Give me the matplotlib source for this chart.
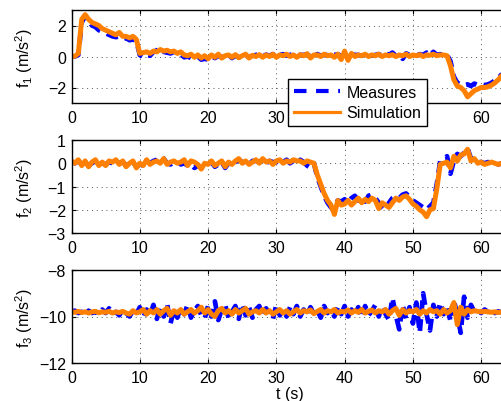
import numpy as np
import matplotlib
matplotlib.use("Agg")
import matplotlib.pyplot as plt
from matplotlib.lines import Line2D

plt.rcParams['font.family'] = ['Liberation Sans', 'DejaVu Sans']
plt.rcParams['mathtext.fontset'] = 'custom'
plt.rcParams['mathtext.rm'] = 'Liberation Sans'
plt.rcParams['mathtext.it'] = 'Liberation Sans:italic'

DT = 0.5  # sampling step (s)

f1_sim = [
    0.0, 0.02, 0.2, 2.4, 2.7, 2.4, 2.2, 2.1, 2.0, 1.8,
    1.7, 1.6, 1.5, 1.4, 1.55, 1.3, 1.3, 1.2, 1.3, 1.1,
    0.2, 0.25, 0.3, 0.2, 0.35, 0.3, 0.45, 0.35, 0.4, 0.3,
    0.35, 0.2, 0.3, 0.1, 0.05, 0.15, -0.05, 0.1, -0.1, 0.05,
    -0.15, 0.1, -0.05, 0.15, -0.1, 0.05, 0.1, -0.05, 0.12, -0.08,
    0.05, 0.15, -0.1, 0.08, 0.0, 0.12, -0.05, 0.1, 0.0, 0.15,
    -0.05, 0.1, 0.05, 0.15, 0.0, 0.1, -0.05, 0.12, 0.05, 0.18,
    -0.1, 0.1, 0.1, 0.0, 0.15, 0.05, 0.1, -0.05, 0.15, -0.2,
    0.35, -0.25, 0.2, 0.0, 0.1, 0.05, 0.15, 0.0, 0.1, 0.05,
    0.15, 0.0, 0.1, 0.05, 0.12, 0.0, 0.1, 0.05, 0.15, 0.0,
    0.1, 0.05, 0.12, 0.0, 0.1, 0.08, 0.15, 0.05, 0.1, 0.1,
    0.05, -0.6, -1.5, -1.9, -2.0, -2.2, -2.6, -2.4, -2.2, -2.1,
    -2.0, -2.0, -1.95, -1.85, -1.7, -1.5, -1.25, -1.0, -0.8,
]
f1_meas = [
    0.0, 0.0, 0.1, 2.2, 2.6, 2.3, 2.0, 1.9, 1.7, 1.6,
    1.5, 1.4, 1.3, 1.25, 1.3, 1.15, 1.2, 1.05, 1.1, 1.0,
    0.1, -0.05, 0.1, 0.05, 0.3, 0.4, 0.5, 0.3, 0.25, 0.2,
    0.3, 0.1, 0.15, -0.05, 0.0, -0.1, -0.15, 0.0, -0.2, -0.15,
    -0.2, 0.0, -0.1, 0.05, -0.05, 0.0, 0.1, -0.1, 0.05, -0.05,
    0.0, 0.1, -0.05, 0.05, 0.1, 0.15, 0.0, 0.12, 0.05, 0.15,
    0.0, 0.1, 0.15, 0.05, 0.1, 0.15, 0.05, 0.1, 0.1, 0.15,
    0.0, 0.1, 0.15, 0.05, 0.1, 0.1, 0.05, 0.1, 0.15, 0.0,
    0.1, 0.05, 0.15, 0.1, 0.1, 0.05, 0.2, 0.1, 0.05, 0.1,
    0.15, 0.05, 0.2, 0.1, 0.25, 0.05, 0.1, -0.15, 0.2, 0.1,
    0.2, 0.05, 0.15, 0.1, 0.25, 0.05, 0.3, 0.1, 0.15, 0.1,
    0.1, -0.3, -1.3, -1.7, -1.8, -1.85, -1.8, -1.9, -1.75, -1.85,
    -1.8, -1.85, -1.8, -1.7, -1.55, -1.4, -1.15, -0.9, -0.7,
]
f2_sim = [
    0.1, 0.0, 0.15, -0.1, 0.1, -0.15, 0.05, 0.15, -0.1, 0.05,
    -0.1, 0.1, 0.05, 0.15, -0.05, 0.1, -0.15, 0.0, 0.1, -0.2,
    0.0, -0.1, 0.15, -0.05, 0.05, 0.1, 0.0, 0.2, -0.05, 0.05,
    0.1, 0.0, 0.05, 0.15, -0.1, 0.1, 0.05, -0.05, -0.25, 0.0,
    -0.05, 0.1, -0.1, 0.0, 0.1, -0.15, 0.05, -0.05, 0.1, 0.2,
    0.0, 0.1, -0.05, 0.05, 0.15, 0.0, 0.2, 0.05, 0.1, -0.05,
    0.1, 0.15, 0.0, 0.1, 0.05, 0.15, 0.1, 0.1, 0.0, 0.1,
    0.05, 0.0, -0.5, -0.9, -1.3, -1.6, -1.8, -2.2, -1.6, -1.8,
    -1.75, -1.6, -1.8, -1.65, -1.5, -1.7, -1.55, -1.65, -1.5, -1.6,
    -1.95, -1.7, -1.8, -1.9, -1.7, -1.5, -1.6, -1.45, -1.4, -1.55,
    -1.75, -1.85, -2.0, -2.1, -2.3, -2.0, -1.95, -1.1, -0.05, 0.0,
    0.05, -0.2, 0.3, 0.1, 0.35, 0.4, 0.6, 0.1, 0.2, 0.0,
    0.05, -0.05, 0.0, 0.05, 0.0, -0.05, 0.0, -0.05, 0.0,
]
f2_meas = [
    0.05, 0.0, 0.1, -0.05, 0.05, -0.1, 0.0, 0.1, -0.05, 0.0,
    -0.05, 0.05, 0.0, 0.1, 0.0, 0.05, -0.1, 0.0, 0.05, -0.15,
    -0.05, -0.1, 0.1, 0.0, 0.1, 0.15, 0.3, 0.2, 0.0, -0.05,
    0.05, 0.1, -0.05, 0.0, -0.1, -0.05, -0.2, -0.1, -0.2, -0.15,
    -0.1, 0.05, -0.15, -0.05, 0.05, -0.2, 0.0, -0.1, 0.05, 0.15,
    0.05, 0.0, -0.05, 0.1, 0.1, 0.05, 0.15, 0.0, 0.1, 0.05,
    0.05, 0.1, 0.05, 0.15, 0.0, 0.1, 0.05, 0.15, 0.05, -0.1,
    -0.2, 0.0, -0.6, -1.0, -1.4, -1.7, -1.9, -1.8, -1.6, -1.65,
    -1.55, -1.7, -1.5, -1.4, -1.6, -1.45, -1.65, -1.4, -1.35, -1.5,
    -1.7, -1.9, -2.05, -1.7, -1.5, -1.4, -1.5, -1.35, -1.3, -1.45,
    -1.6, -1.7, -1.8, -1.9, -2.0, -1.85, -1.7, -0.9, 0.1, 0.2,
    0.3, -0.45, 0.1, 0.4, 0.3, 0.45, 0.65, 0.2, 0.15, 0.05,
    0.05, 0.0, 0.05, 0.0, 0.05, -0.05, 0.0, 0.0, 0.0,
]
f3_sim = [
    -9.8, -9.82, -9.78, -9.83, -9.8, -9.85, -9.8, -9.78, -9.84, -9.8,
    -9.82, -9.78, -9.85, -9.8, -9.83, -9.78, -9.85, -9.9, -9.75, -9.85,
    -9.8, -9.7, -9.9, -9.75, -9.85, -9.7, -9.9, -9.75, -9.65, -9.95,
    -9.75, -9.85, -9.7, -9.9, -9.8, -9.7, -9.85, -9.75, -9.6, -9.85,
    -9.7, -9.9, -10.0, -9.75, -9.65, -9.85, -9.75, -9.9, -9.7, -9.85,
    -9.75, -9.65, -9.9, -9.8, -9.75, -9.85, -9.7, -9.85, -9.75, -9.9,
    -9.8, -9.7, -9.85, -9.75, -9.9, -9.8, -9.7, -9.85, -9.75, -9.8,
    -9.72, -9.88, -9.78, -9.7, -9.85, -9.75, -9.8, -9.7, -9.85, -9.78,
    -9.8, -9.72, -9.85, -9.75, -9.82, -9.7, -9.85, -9.78, -9.72, -9.85,
    -9.75, -9.8, -9.7, -9.9, -9.75, -9.65, -9.95, -9.7, -9.85, -9.75,
    -9.8, -9.7, -9.9, -9.75, -9.85, -9.7, -9.8, -9.75, -9.9, -9.7,
    -9.85, -9.75, -9.4, -10.35, -9.6, -9.9, -9.7, -9.8, -9.75, -9.78,
    -9.8, -9.78, -9.8, -9.82, -9.8, -9.83, -9.8, -9.82, -9.8,
]
f3_meas = [
    -9.8, -9.75, -9.85, -9.8, -9.9, -9.75, -9.85, -9.8, -9.9, -9.7,
    -9.85, -9.65, -9.9, -9.8, -9.95, -9.7, -9.85, -10.0, -9.75, -9.9,
    -9.6, -10.05, -9.7, -9.95, -9.5, -10.1, -9.6, -10.0, -9.45, -10.3,
    -9.7, -10.05, -9.6, -9.9, -9.5, -10.05, -9.75, -9.55, -9.95, -10.1,
    -9.55, -10.0, -9.35, -10.15, -9.7, -9.5, -10.05, -9.8, -9.55, -10.1,
    -9.45, -9.95, -9.6, -10.05, -9.7, -9.55, -10.0, -9.65, -9.9, -10.1,
    -9.5, -9.95, -9.7, -10.0, -9.6, -9.9, -9.55, -10.0, -9.7, -9.95,
    -9.6, -9.9, -9.75, -10.05, -9.55, -9.85, -9.7, -10.0, -9.6, -9.9,
    -9.55, -10.0, -9.7, -9.9, -9.6, -10.05, -9.55, -9.95, -9.75, -9.5,
    -10.0, -9.55, -9.9, -10.15, -9.2, -9.95, -10.55, -9.5, -10.1, -9.6,
    -10.3, -9.4, -10.7, -9.0, -9.9, -10.6, -9.5, -10.0, -9.4, -9.9,
    -9.55, -10.2, -9.3, -9.95, -10.7, -9.15, -10.05, -9.5, -9.8, -9.75,
    -9.85, -9.7, -9.8, -9.75, -9.85, -9.78, -9.82, -9.8, -9.8,
]

xticks = [0, 10, 20, 30, 40, 50, 60]
ylabels = ['f$_1$ (m/s$^2$)', 'f$_2$ (m/s$^2$)', 'f$_3$ (m/s$^2$)']
ylims = [(-3, 3), (-3, 1), (-12, -8)]
yticks = [[-2, 0, 2], [-3, -2, -1, 0, 1], [-12, -10, -8]]

BLUE = '#0000FF'
ORANGE = '#FF8000'
FS = 11.5

fig = plt.figure(figsize=(5.02, 4.02), dpi=100)
W, H = 502, 402
left = 71.5 / W
width = 437 / W
tops = [11, 141, 271]
axh = 93

series = [(f1_meas, f1_sim), (f2_meas, f2_sim), (f3_meas, f3_sim)]
axes = []
for i, (meas, sim) in enumerate(series):
    bottom = (H - tops[i] - axh) / H
    ax = fig.add_axes([left, bottom, width, axh / H])
    tm = DT * np.arange(len(meas))
    ts = DT * np.arange(len(sim))
    ax.plot(tm, meas, color=BLUE, lw=3.4, linestyle=(0, (2.5, 1.5)))
    ax.plot(ts, sim, color=ORANGE, lw=3.6)
    ax.set_xlim(0, 64)
    ax.set_ylim(*ylims[i])
    ax.set_xticks(xticks)
    ax.set_yticks(yticks[i])
    ax.grid(True, color='#555555', linestyle=(0, (1, 4)), linewidth=0.7)
    ax.tick_params(direction='in', length=3, width=0.8, top=True, right=True,
                   labelsize=FS, colors='black')
    ax.tick_params(axis='x', pad=5)
    ax.tick_params(axis='y', pad=4)
    for sp in ax.spines.values():
        sp.set_linewidth(1.0)
    ax.set_ylabel(ylabels[i], fontsize=FS)
    ax.yaxis.set_label_coords(-0.083, 0.5)
    axes.append(ax)

axes[2].set_xlabel('t (s)', fontsize=FS, labelpad=1)

handles = [Line2D([], [], color=BLUE, lw=3.0, linestyle=(0, (3, 2.3))),
           Line2D([], [], color=ORANGE, lw=2.3)]
leg = axes[0].legend(handles, ['Measures', 'Simulation'],
                     loc='upper left', bbox_to_anchor=(288 / W, 1 - 80 / H),
                     bbox_transform=fig.transFigure, fancybox=False,
                     edgecolor='black', framealpha=1, fontsize=FS,
                     handlelength=2.9, handletextpad=0.4, borderpad=0.35,
                     labelspacing=0.35, borderaxespad=0)
leg.get_frame().set_linewidth(1.0)
leg.set_zorder(10)

fig.savefig('out.png', dpi=100)
